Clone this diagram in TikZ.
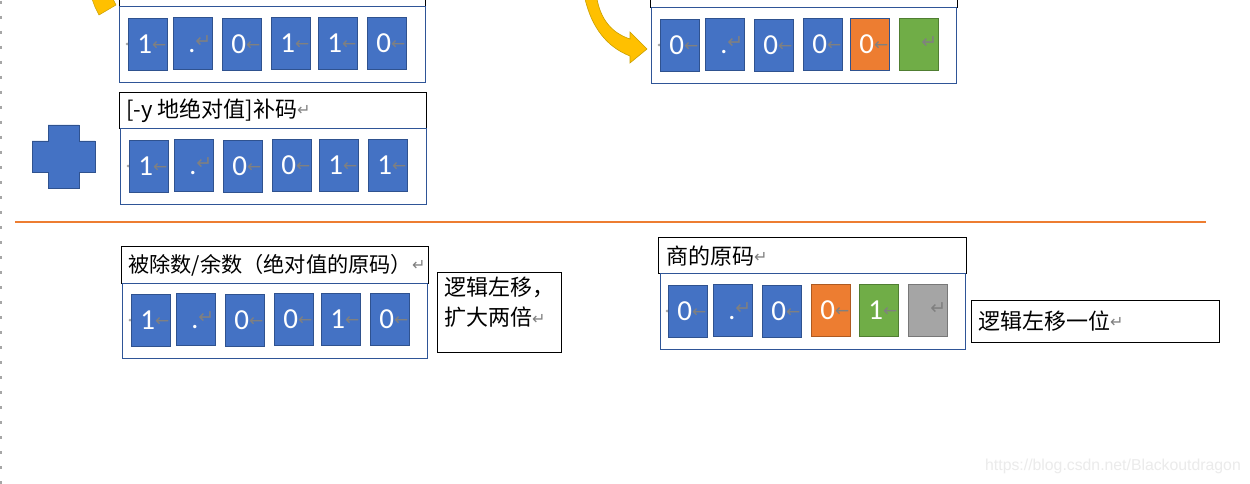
\documentclass[tikz,border=0pt]{standalone}
\usepackage{fontspec}
\setmainfont{Carlito}
\newfontfamily\cjkf{Noto Sans CJK SC}
\newfontfamily\symf{DejaVu Sans}
\newfontfamily\wmf{Liberation Sans}
\definecolor{cblue}{HTML}{4472C4}
\definecolor{cblueB}{HTML}{2F528F}
\definecolor{corange}{HTML}{ED7D31}
\definecolor{corangeB}{HTML}{AE5A21}
\definecolor{cgreen}{HTML}{70AD47}
\definecolor{cgreenB}{HTML}{507E32}
\definecolor{cgrey}{HTML}{A5A5A5}
\definecolor{cgreyB}{HTML}{787878}
\definecolor{boxB}{HTML}{2F5597}
\definecolor{markgray}{HTML}{808080}
\definecolor{arrY}{HTML}{FFC000}
\definecolor{arrYB}{HTML}{C9A000}
\newcommand\retmk{{\symf\fontsize{16}{16}\selectfont\color{markgray}\raisebox{1.5pt}{↵}}}
\newcommand\bitd[1]{\vphantom{\fontsize{28}{28}\selectfont 0}{\color{white}\fontsize{29}{29}\selectfont #1}{\symf\fontsize{17}{17}\selectfont\color{markgray}\raisebox{3pt}{←}}}
\newcommand\bitdot{\vphantom{\fontsize{28}{28}\selectfont 0}{\color{white}\fontsize{28}{28}\selectfont .}{\symf\fontsize{19}{19}\selectfont\color{markgray}\raisebox{4.5pt}{↵}}}
\newcommand\bitret{\vphantom{\fontsize{28}{28}\selectfont 0}{\symf\fontsize{19}{19}\selectfont\color{markgray}\raisebox{4.5pt}{↵}}\hspace{4pt}}
\begin{document}
\begin{tikzpicture}[x=1pt,y=-1pt,
  bitcell/.style={draw=cblueB, fill=cblue, line width=0.8pt, inner ysep=0pt, inner xsep=1pt,
    text width=37pt, align=right, minimum height=52pt, anchor=north west},
  container/.style={draw=boxB, line width=0.9pt},
  lblbox/.style={draw=black, line width=0.9pt},
  lbl/.style={anchor=west, inner sep=0pt, font=\cjkf\fontsize{22}{30}\selectfont},
  anch/.style={fill=markgray!70, circle, inner sep=0pt, minimum size=3pt}
]
\useasboundingbox (0,0) rectangle (1250,484);
\fill[white] (0,0) rectangle (1250,484);

% left dashed page edge
\draw[black!35, line width=1.5pt, dash pattern=on 3pt off 12pt, dash phase=0pt] (1,1) -- (1,484);

% ---------- top left ----------
\draw[lblbox] (119,-5) rectangle (425,6);
\draw[container] (119,6) rectangle (425,82);
\node[anch] (a1) at (127,44) {};
\node[bitcell] (t1) at (128,18) {\bitd{1}};
\node[bitcell] (t2) at (173,17) {\bitdot};
\node[bitcell] (t3) at (222,18) {\bitd{0}};
\node[bitcell] (t4) at (271,17) {\bitd{1}};
\node[bitcell] (t5) at (318,17) {\bitd{1}};
\node[bitcell] (t6) at (367,17) {\bitd{0}};
% yellow arrow tip (top left)
\fill[arrY, draw=arrYB, line width=0.5pt] (92,-1) -- (113,-1) -- (116,5) -- (99,15) -- (95,7) -- cycle;

% ---------- top right ----------
\draw[lblbox] (650,-5) rectangle (957,7);
\draw[container] (651,7) rectangle (956,83);
\node[anch] (a2) at (659,45) {};
\node[bitcell] (r1) at (660,19) {\bitd{0}};
\node[bitcell] (r2) at (705,18) {\bitdot};
\node[bitcell] (r3) at (754,19) {\bitd{0}};
\node[bitcell] (r4) at (803,18) {\bitd{0}};
\node[bitcell, fill=corange] (r5) at (850,18) {\bitd{0}};
\node[bitcell, fill=cgreen, draw=cgreenB] (r6) at (899,18) {\bitret};
% curved yellow arrow
\fill[arrY, draw=arrYB, line width=0.6pt]
  (585,-1) .. controls (592,28) and (607,47) .. (630,56)
  -- (630,63) -- (647,49) -- (630,32) -- (630,39)
  .. controls (612,33) and (601,20) .. (597,-1) -- cycle;

% ---------- middle left ----------
\draw[lblbox] (119,92) rectangle (426,128);
\node[lbl] (lab2) at (126,110.5) {[-y 地绝对值]补码\retmk};
\draw[container] (120,128) rectangle (426,204);
\node[anch] (a3) at (128,166) {};
\node[bitcell] (m1) at (129,140) {\bitd{1}};
\node[bitcell] (m2) at (174,139) {\bitdot};
\node[bitcell] (m3) at (223,140) {\bitd{0}};
\node[bitcell] (m4) at (272,139) {\bitd{0}};
\node[bitcell] (m5) at (319,139) {\bitd{1}};
\node[bitcell] (m6) at (368,139) {\bitd{1}};
% plus sign
\filldraw[fill=cblue, draw=cblueB, line width=0.7pt]
  (32,141) -- (48,141) -- (48,125) -- (79,125) -- (79,141) -- (95,141) -- (95,172)
  -- (79,172) -- (79,188) -- (48,188) -- (48,172) -- (32,172) -- cycle;

% separator
\draw[corange, line width=2pt] (15,221.5) -- (1206,221.5);

% ---------- bottom left ----------
\draw[lblbox] (121,246) rectangle (428,283);
\node[lbl, font=\cjkf\fontsize{21.2}{30}\selectfont] (lab3) at (128,265) {被除数/余数（绝对值的原码）\retmk};
\draw[container] (122,283) rectangle (427,358);
\node[anch] (a4) at (130,320) {};
\node[bitcell] (b1) at (131,294) {\bitd{1}};
\node[bitcell] (b2) at (176,293) {\bitdot};
\node[bitcell] (b3) at (225,294) {\bitd{0}};
\node[bitcell] (b4) at (274,293) {\bitd{0}};
\node[bitcell] (b5) at (321,293) {\bitd{1}};
\node[bitcell] (b6) at (370,293) {\bitd{0}};
\draw[lblbox] (437,272) rectangle (561,352);
\node[lbl, anchor=north west, align=left] (note1) at (444,277) {逻辑左移，\\扩大两倍\retmk};

% ---------- bottom right ----------
\draw[lblbox] (658,237) rectangle (966,273);
\node[lbl] (lab4) at (666,256) {商的原码\retmk};
\draw[container] (660,273) rectangle (965,349);
\node[anch] (a5) at (667,311) {};
\node[bitcell] (q1) at (668,285) {\bitd{0}};
\node[bitcell] (q2) at (713,284) {\bitdot};
\node[bitcell] (q3) at (762,285) {\bitd{0}};
\node[bitcell, fill=corange, draw=corangeB] (q4) at (811,284) {\bitd{0}};
\node[bitcell, fill=cgreen, draw=cgreenB] (q5) at (859,284) {\bitd{1}};
\node[bitcell, fill=cgrey, draw=cgreyB] (q6) at (908,284) {\bitret};
\draw[lblbox] (971,300) rectangle (1219,342);
\node[lbl] (note2) at (978,321) {逻辑左移一位\retmk};

% watermark
\node[anchor=east, inner sep=0pt, font=\wmf\fontsize{15.8}{16}\selectfont, text=black!8] (wm) at (1241,466) {https://blog.csdn.net/Blackoutdragon};
\end{tikzpicture}
\end{document}
